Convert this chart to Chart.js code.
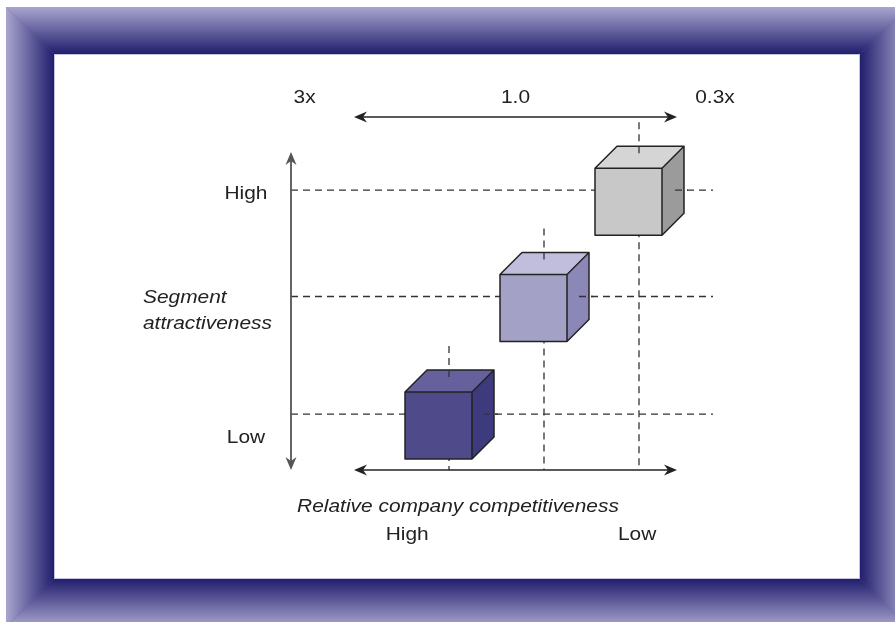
<!DOCTYPE html>
<html>
<head>
<meta charset="utf-8">
<script src="https://cdn.jsdelivr.net/npm/chart.js@4.4.1/dist/chart.umd.min.js"></script>
<style>
  html, body { margin: 0; padding: 0; background: #fff; }
  canvas { display: block; }
</style>
</head>
<body>
<canvas id="matrix" width="895" height="622"></canvas>
<script>
// segment positions: x = relative company competitiveness, y = segment attractiveness
const segCompetitiveness = [1, 2, 3];
const segAttractiveness = [1, 2.05, 3];

// labels along the top arrow (relative share) and on the two axes
const shareLabels = ['3x', '1.0', '0.3x'];
const shareValues = [-0.52, 1.7, 3.8];
const attractLabels = ['High', 'Low'];
const attractValues = [2.97, 0.79];
const competeLabels = ['High', 'Low'];
const competeValues = [0.56, 2.98];

// face colours per cube: front, top, side
const cubeColors = [
  { front: '#4f4b8b', top: '#66619d', side: '#3e3a7e' },
  { front: '#a4a1c6', top: '#c1bedd', side: '#8b87b6' },
  { front: '#c8c8c8', top: '#d5d5d5', side: '#9b9b9b' }
];

const FONT = '"Liberation Sans", Arial, sans-serif';
const FONT_SIZE = 19;
const STRETCH = 1.1; // text is set a little wide
const CUBE = 67, DEPTH = 22;

function poly(ctx, pts, fill) {
  ctx.beginPath();
  ctx.moveTo(pts[0][0], pts[0][1]);
  for (let k = 1; k < pts.length; k++) ctx.lineTo(pts[k][0], pts[k][1]);
  ctx.closePath();
  ctx.fillStyle = fill;
  ctx.fill();
}

// bevelled blue frame round the white panel
function drawFrame(ctx) {
  const o = { l: 6, t: 7, r: 908, b: 627 };
  const i = { l: 54, t: 54, r: 860, b: 579 };
  const light = '#a9a5cf', dark = '#211e6d';
  // base fill so the mitred seams don't show through
  ctx.fillStyle = '#625f9c';
  ctx.fillRect(o.l, o.t, o.r - o.l, o.b - o.t);
  const sides = [
    { pts: [[o.l, o.t], [o.r, o.t], [i.r, i.t], [i.l, i.t]], g: [0, o.t, 0, i.t] },
    { pts: [[o.l, o.b], [o.r, o.b], [i.r, i.b], [i.l, i.b]], g: [0, o.b, 0, i.b] },
    { pts: [[o.l, o.t], [i.l, i.t], [i.l, i.b], [o.l, o.b]], g: [o.l, 0, i.l, 0] },
    { pts: [[o.r, o.t], [i.r, i.t], [i.r, i.b], [o.r, o.b]], g: [o.r, 0, i.r, 0] }
  ];
  sides.forEach(s => {
    const grad = ctx.createLinearGradient(s.g[0], s.g[1], s.g[2], s.g[3]);
    grad.addColorStop(0, light);
    grad.addColorStop(1, dark);
    poly(ctx, s.pts, grad);
  });
  ctx.fillStyle = '#fff';
  ctx.fillRect(i.l, i.t, i.r - i.l, i.b - i.t);
  ctx.strokeStyle = '#c4c2de';
  ctx.lineWidth = 1;
  ctx.strokeRect(i.l + 0.5, i.t + 0.5, i.r - i.l - 1, i.b - i.t - 1);
}

function arrowHead(ctx, x, y, ang) {
  const len = 13, half = 5.5, notch = 4;
  ctx.save();
  ctx.translate(x, y);
  ctx.rotate(ang);
  ctx.beginPath();
  ctx.moveTo(0, 0);
  ctx.lineTo(-len, -half);
  ctx.lineTo(-len + notch, 0);
  ctx.lineTo(-len, half);
  ctx.closePath();
  ctx.fill();
  ctx.restore();
}

function doubleArrow(ctx, x1, y1, x2, y2, color, width) {
  const ang = Math.atan2(y2 - y1, x2 - x1);
  ctx.strokeStyle = color;
  ctx.fillStyle = color;
  ctx.lineWidth = width;
  ctx.setLineDash([]);
  ctx.beginPath();
  ctx.moveTo(x1 + 8 * Math.cos(ang), y1 + 8 * Math.sin(ang));
  ctx.lineTo(x2 - 8 * Math.cos(ang), y2 - 8 * Math.sin(ang));
  ctx.stroke();
  arrowHead(ctx, x2, y2, ang);
  arrowHead(ctx, x1, y1, ang + Math.PI);
}

function dashLine(ctx, x1, y1, x2, y2) {
  ctx.strokeStyle = '#333';
  ctx.lineWidth = 1.3;
  ctx.setLineDash([7, 5]);
  ctx.beginPath();
  ctx.moveTo(x1, y1);
  ctx.lineTo(x2, y2);
  ctx.stroke();
  ctx.setLineDash([]);
}

function drawCube(ctx, cx, cy, c) {
  const fx = cx - 44, fy = cy - 22;
  const S = CUBE, D = DEPTH;
  poly(ctx, [[fx, fy], [fx + D, fy - D], [fx + S + D, fy - D], [fx + S, fy]], c.top);
  poly(ctx, [[fx + S, fy], [fx + S + D, fy - D], [fx + S + D, fy + S - D], [fx + S, fy + S]], c.side);
  poly(ctx, [[fx, fy], [fx + S, fy], [fx + S, fy + S], [fx, fy + S]], c.front);
  ctx.strokeStyle = '#222';
  ctx.lineWidth = 1.5;
  ctx.lineJoin = 'round';
  ctx.beginPath();
  ctx.rect(fx, fy, S, S);
  ctx.moveTo(fx, fy); ctx.lineTo(fx + D, fy - D); ctx.lineTo(fx + S + D, fy - D);
  ctx.lineTo(fx + S + D, fy + S - D); ctx.lineTo(fx + S, fy + S);
  ctx.moveTo(fx + S, fy); ctx.lineTo(fx + S + D, fy - D);
  ctx.stroke();
}

function text(ctx, str, x, y, align, italic) {
  ctx.save();
  ctx.font = (italic ? 'italic ' : '') + FONT_SIZE + 'px ' + FONT;
  ctx.fillStyle = '#222';
  ctx.textAlign = align;
  ctx.textBaseline = 'middle';
  ctx.translate(x, y);
  ctx.scale(STRETCH, 1);
  ctx.fillText(str, 0, 0);
  ctx.restore();
}

const matrixPlugin = {
  id: 'matrix',
  beforeDraw(chart) {
    const ctx = chart.ctx;
    ctx.save();
    ctx.fillStyle = '#fff';
    ctx.fillRect(0, 0, chart.width, chart.height);
    drawFrame(ctx);
    ctx.restore();
  },
  afterDatasetsDraw(chart) {
    const ctx = chart.ctx;
    const ca = chart.chartArea;
    const xs = chart.scales.x, ys = chart.scales.y;
    const axisX = ca.left - 63;
    const lineEnd = ca.right + 36;
    const pts = chart.getDatasetMeta(0).data;
    ctx.save();

    // guide lines through each segment
    pts.forEach(p => {
      dashLine(ctx, axisX, p.y, lineEnd, p.y);
      dashLine(ctx, p.x, p.y - 68, p.x, ca.bottom);
    });

    pts.forEach((p, k) => drawCube(ctx, p.x, p.y, cubeColors[k]));

    // bits of the guide lines that show over the top and side faces
    pts.forEach(p => {
      ctx.save();
      ctx.beginPath();
      ctx.rect(p.x + 35, p.y - 4, 14, 8);
      ctx.clip();
      dashLine(ctx, axisX, p.y, lineEnd, p.y);
      ctx.restore();
      ctx.save();
      ctx.beginPath();
      ctx.rect(p.x - 4, p.y - 46, 8, 12);
      ctx.clip();
      dashLine(ctx, p.x, p.y - 68, p.x, ca.bottom);
      ctx.restore();
    });

    // arrows
    doubleArrow(ctx, ca.left, ca.top - 34, ca.right, ca.top - 34, '#222', 1.5);
    doubleArrow(ctx, ca.left, ca.bottom, ca.right, ca.bottom, '#222', 1.5);
    doubleArrow(ctx, axisX, ca.top + 1, axisX, ca.bottom, '#555', 1.8);

    // labels
    shareLabels.forEach((s, k) => text(ctx, s, xs.getPixelForValue(shareValues[k]), ca.top - 53, 'center'));
    attractLabels.forEach((s, k) => text(ctx, s, axisX - 45, ys.getPixelForValue(attractValues[k]), 'center'));
    competeLabels.forEach((s, k) => text(ctx, s, xs.getPixelForValue(competeValues[k]), ca.bottom + 65, 'center'));
    text(ctx, 'Segment', axisX - 148, 298, 'left', true);
    text(ctx, 'attractiveness', axisX - 148, 324, 'left', true);
    text(ctx, 'Relative company competitiveness', 458, ca.bottom + 37, 'center', true);
    ctx.restore();
  }
};

new Chart(document.getElementById('matrix').getContext('2d'), {
  type: 'scatter',
  data: {
    datasets: [{
      data: segCompetitiveness.map((x, k) => ({ x: x, y: segAttractiveness[k] })),
      pointRadius: 0
    }]
  },
  options: {
    responsive: false,
    animation: false,
    events: [],
    layout: { padding: { left: 354, right: 218, top: 151, bottom: 152 } },
    plugins: { legend: { display: false }, tooltip: { enabled: false } },
    scales: {
      x: { type: 'linear', min: 0, max: 3.4, display: false },
      y: { type: 'linear', min: 0.5, max: 3.35, display: false }
    }
  },
  plugins: [matrixPlugin]
});
</script>
</body>
</html>
